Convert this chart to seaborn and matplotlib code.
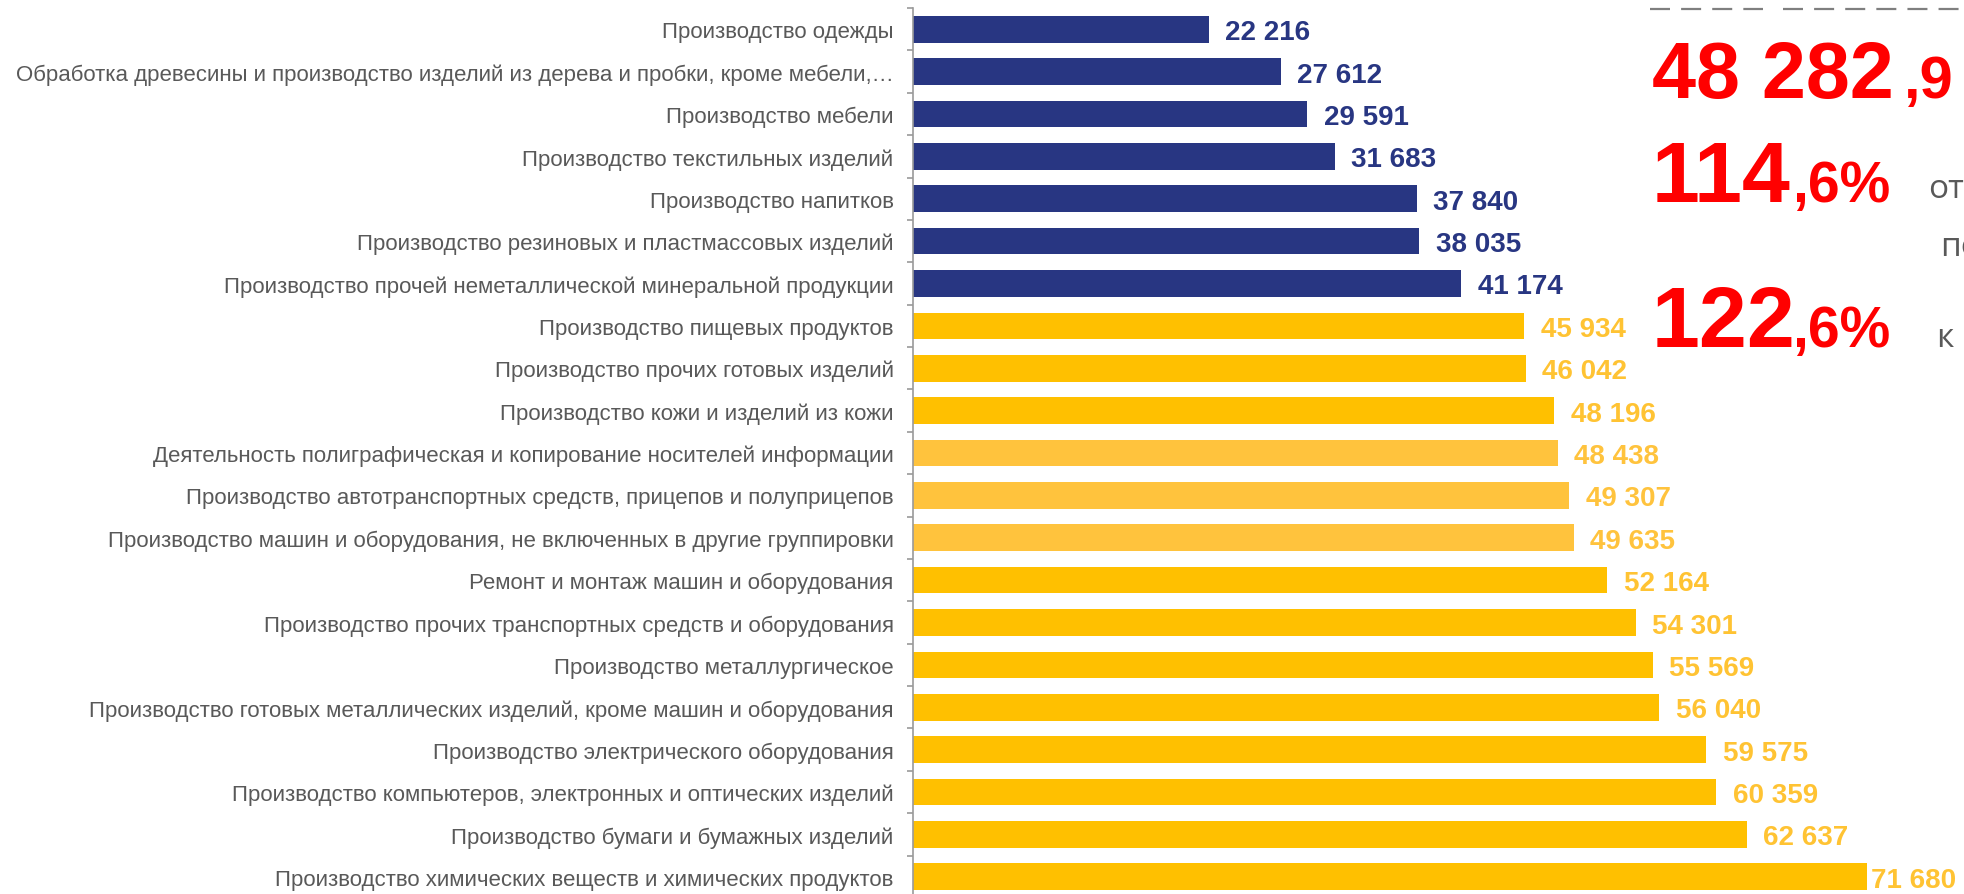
import matplotlib
matplotlib.use("Agg")
import matplotlib.pyplot as plt
from matplotlib.lines import Line2D
import seaborn as sns
import pandas as pd
import numpy as np

categories = [
    "Производство одежды",
    "Обработка древесины и производство изделий из дерева и пробки, кроме мебели,…",
    "Производство мебели",
    "Производство текстильных изделий",
    "Производство напитков",
    "Производство резиновых и пластмассовых изделий",
    "Производство прочей неметаллической минеральной продукции",
    "Производство пищевых продуктов",
    "Производство прочих готовых изделий",
    "Производство кожи и изделий из кожи",
    "Деятельность полиграфическая и копирование носителей информации",
    "Производство автотранспортных средств, прицепов и полуприцепов",
    "Производство машин и оборудования, не включенных в другие группировки",
    "Ремонт и монтаж машин и оборудования",
    "Производство прочих транспортных средств и оборудования",
    "Производство металлургическое",
    "Производство готовых металлических изделий, кроме машин и оборудования",
    "Производство электрического оборудования",
    "Производство компьютеров, электронных и оптических изделий",
    "Производство бумаги и бумажных изделий",
    "Производство химических веществ и химических продуктов",
]
values = [22216, 27612, 29591, 31683, 37840, 38035, 41174, 45934, 46042, 48196,
          48438, 49307, 49635, 52164, 54301, 55569, 56040, 59575, 60359, 62637, 71680]
# group: 0 = below average (navy), 1 = above (yellow), 2 = above (light yellow)
groups = [0, 0, 0, 0, 0, 0, 0, 1, 1, 1, 2, 2, 2, 1, 1, 1, 1, 1, 1, 1, 1]

avg_value = "48 282"
avg_decimal = ",9"
pct_prev = "114"
pct_prev_dec = ",6%"
pct_base = "122"
pct_base_dec = ",6%"

bar_colors = {0: "#283682", 1: "#FFC000", 2: "#FFC33D"}
text_colors = {0: "#283682", 1: "#FFC333", 2: "#FFC33D"}

W, H = 1965, 895
fig = plt.figure(figsize=(W / 100, H / 100), dpi=100)
ax = fig.add_axes([913 / W, 1 - 899 / H, (W - 913) / W, (899 - 9) / H])

df = pd.DataFrame({"cat": categories, "val": values})
sns.barplot(data=df, x="val", y="cat", hue="cat",
            palette=[bar_colors[g] for g in groups], legend=False,
            width=0.63, saturation=1, ax=ax)

ax.set_xlim(0, (W - 913) / 0.01331)
ax.set_ylim(len(categories) - 0.5, -0.5)
ax.set_xlabel("")
ax.set_ylabel("")
ax.set_xticks([])
for s in ["top", "right", "bottom"]:
    ax.spines[s].set_visible(False)
ax.spines["left"].set_color("#9A9A9A")
ax.spines["left"].set_linewidth(1.2)

ax.set_yticks(np.arange(-0.5, len(categories), 1.0), minor=True)
ax.tick_params(axis="y", which="major", length=0, pad=14)
ax.tick_params(axis="y", which="minor", length=4, width=1.2, color="#9A9A9A")
for lbl in ax.get_yticklabels():
    lbl.set_fontfamily("Liberation Sans")
    lbl.set_fontsize(16)
    lbl.set_color("#595959")

vmax = max(values)
for i, (v, g) in enumerate(zip(values, groups)):
    pad = 3 if v == vmax else 12
    ax.annotate(f"{v:,}".replace(",", " "), xy=(v, i), xytext=(pad, 0),
                textcoords="offset points", va="center_baseline", ha="left",
                fontsize=20, fontweight="bold", color=text_colors[g],
                family="Liberation Sans", annotation_clip=False)

# right-hand summary (cropped slide area)
def fx(px):
    return px / W

def fy(py):
    return 1 - py / H

red = "#FF0000"
fig.text(fx(1652), fy(98), avg_value, fontsize=57, fontweight="bold", color=red,
         family="Liberation Sans", va="baseline")
fig.text(fx(1904), fy(98), avg_decimal, fontsize=43, fontweight="bold", color=red,
         family="Liberation Sans", va="baseline")
fig.text(fx(1652), fy(202), pct_prev, fontsize=62, fontweight="bold", color=red,
         family="Liberation Sans", va="baseline")
fig.text(fx(1792), fy(202), pct_prev_dec, fontsize=41, fontweight="bold", color=red,
         family="Liberation Sans", va="baseline")
fig.text(fx(1652), fy(347), pct_base, fontsize=62, fontweight="bold", color=red,
         family="Liberation Sans", va="baseline")
fig.text(fx(1792), fy(347), pct_base_dec, fontsize=41, fontweight="bold", color=red,
         family="Liberation Sans", va="baseline")

gray = "#595959"
fig.text(fx(1928), fy(198), "от", fontsize=24, color=gray, family="Open Sans", va="baseline")
fig.text(fx(1940), fy(256), "по", fontsize=24, color=gray, family="Open Sans", va="baseline")
fig.text(fx(1936), fy(347), "к", fontsize=24, color=gray, family="Open Sans", va="baseline")

for x0, x1 in [(1650, 1763), (1783, 1965)]:
    fig.add_artist(Line2D([fx(x0), fx(x1)], [fy(10), fy(10)], color="#7F7F7F",
                          lw=1.6, linestyle=(0, (9, 5)), transform=fig.transFigure))

fig.savefig("out.png", dpi=100)
